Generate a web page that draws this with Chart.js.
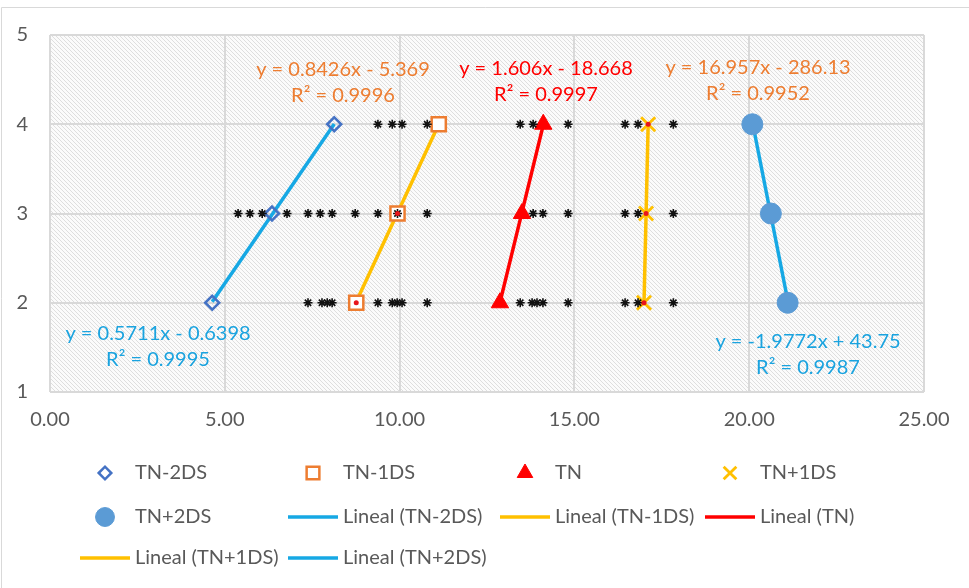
<!DOCTYPE html>
<html>
<head>
<meta charset="utf-8">
<script src="https://cdn.jsdelivr.net/npm/chart.js@4/dist/chart.umd.min.js"></script>
<style>
  html, body { margin: 0; padding: 0; background: #ffffff; }
  #c { display: block; }
</style>
</head>
<body>
<canvas id="c" width="969" height="588"></canvas>
<script>
// ---- data ----
const seriesNames = ['TN-2DS', 'TN-1DS', 'TN', 'TN+1DS', 'TN+2DS'];
const levels = [2, 3, 4];

const xTNminus2DS = [4.64, 6.35, 8.13];
const xTNminus1DS = [8.76, 9.94, 11.12];
const xTN         = [12.87, 13.50, 14.11];
const xTNplus1DS  = [16.99, 17.05, 17.11];
const xTNplus2DS  = [21.10, 20.62, 20.09];

// linear fits y = slope * x + intercept
const slopes     = [0.5711, 0.8426, 1.606, 16.957, -1.9772];
const intercepts = [-0.6398, -5.369, -18.668, -286.13, 43.75];
const rSquared   = [0.9995, 0.9996, 0.9997, 0.9952, 0.9987];

// individual readings at each level
const samplesAt2 = [7.38, 7.78, 7.93, 8.07, 9.38, 9.79, 9.93, 10.07, 10.79, 13.45, 13.79, 13.93, 14.10, 14.82, 16.45, 16.82, 17.83];
const samplesAt3 = [5.38, 5.72, 6.07, 6.78, 7.38, 7.73, 8.07, 8.73, 9.38, 9.94, 10.79, 13.82, 14.10, 14.82, 16.45, 16.82, 17.83];
const samplesAt4 = [9.38, 9.79, 10.07, 10.79, 13.45, 13.82, 14.82, 16.45, 16.82, 17.83];

// small red readings
const redMarksX = [8.76, 9.94, 16.99, 17.05, 17.11];
const redMarksY = [2, 3, 2, 3, 4];

const xTickValues = [0, 5, 10, 15, 20, 25];
const yTickValues = [1, 2, 3, 4, 5];

// ---- helpers ----
const seriesX = [xTNminus2DS, xTNminus1DS, xTN, xTNplus1DS, xTNplus2DS];
const toPoints = xs => xs.map((x, i) => ({ x: x, y: levels[i] }));
const fitLine = i => {
  const xs = seriesX[i];
  const lo = Math.min(...xs), hi = Math.max(...xs);
  return [lo, hi].map(x => ({ x: x, y: slopes[i] * x + intercepts[i] }));
};
const fmtEq = i => 'y = ' + slopes[i] + 'x ' + (intercepts[i] < 0 ? '- ' : '+ ') + Math.abs(intercepts[i]);
const samplePoints = [].concat(
  samplesAt2.map(x => ({ x: x, y: 2 })),
  samplesAt3.map(x => ({ x: x, y: 3 })),
  samplesAt4.map(x => ({ x: x, y: 4 }))
);

const FONT = 'Lato, "Open Sans", sans-serif';
const TEXT = '#595959';
const BLUE_LINE = '#16A8E4';
const GOLD = '#FFC000';
const RED = '#FF0000';
const ORANGE = '#ED7D31';

const markerStyles = [
  { pointStyle: 'rectRot', radius: 7, borderColor: '#4472C4', backgroundColor: 'rgba(255,255,255,0)', borderWidth: 2.5 },
  { pointStyle: 'rect', radius: 10, borderColor: ORANGE, backgroundColor: '#ffffff', borderWidth: 2.5 },
  { pointStyle: 'triangle', radius: 10, borderColor: RED, backgroundColor: RED, borderWidth: 1 },
  { pointStyle: 'crossRot', radius: 10, borderColor: GOLD, backgroundColor: GOLD, borderWidth: 2.8 },
  { pointStyle: 'circle', radius: 10.5, borderColor: '#5B9BD5', backgroundColor: '#5B9BD5', borderWidth: 1 }
];
const fitColors = [BLUE_LINE, GOLD, RED, GOLD, BLUE_LINE];

const datasets = [];
seriesNames.forEach((name, i) => {
  const m = markerStyles[i];
  datasets.push({
    label: name,
    data: toPoints(seriesX[i]),
    showLine: false,
    pointStyle: m.pointStyle,
    pointRadius: m.radius,
    pointBorderColor: m.borderColor,
    pointBackgroundColor: m.backgroundColor,
    pointBorderWidth: m.borderWidth,
    borderColor: m.borderColor,
    backgroundColor: m.backgroundColor,
    inLegend: true,
    order: 2
  });
});
seriesNames.forEach((name, i) => {
  datasets.push({
    label: 'Lineal (' + name + ')',
    data: fitLine(i),
    showLine: true,
    pointRadius: 0,
    borderColor: fitColors[i],
    backgroundColor: fitColors[i],
    borderWidth: 3.5,
    inLegend: true,
    order: 4
  });
});
datasets.push({
  label: 'readings',
  data: samplePoints,
  showLine: false,
  pointStyle: 'star',
  pointRadius: 4.5,
  pointBorderColor: '#111111',
  pointBorderWidth: 1.6,
  pointBackgroundColor: '#111111',
  inLegend: false,
  order: 1
});
datasets.push({
  label: 'red readings',
  data: redMarksX.map((x, i) => ({ x: x, y: redMarksY[i] })),
  showLine: false,
  pointStyle: 'circle',
  pointRadius: 2.5,
  pointBorderWidth: 0,
  pointBackgroundColor: '#E8141B',
  inLegend: false,
  order: 0
});

// ---- plugins ----
const hatchPlugin = {
  id: 'hatch',
  beforeDraw(chart) {
    const { ctx, chartArea: a } = chart;
    // light outer frame
    ctx.save();
    ctx.strokeStyle = '#d9d9d9';
    ctx.lineWidth = 1;
    ctx.beginPath();
    ctx.moveTo(1.5, chart.height + 2);
    ctx.lineTo(1.5, 7.5);
    ctx.lineTo(chart.width + 2, 7.5);
    ctx.stroke();
    // diagonal hatching of the plot area
    const tile = document.createElement('canvas');
    tile.width = 4; tile.height = 4;
    const t = tile.getContext('2d');
    t.fillStyle = '#fbfbfb';
    t.fillRect(0, 0, 4, 4);
    t.fillStyle = '#dedede';
    for (let i = 0; i < 4; i++) t.fillRect(i, i, 1, 1);
    ctx.fillStyle = ctx.createPattern(tile, 'repeat');
    ctx.fillRect(a.left, a.top, a.right - a.left, a.bottom - a.top);
    ctx.restore();
  }
};

const labelLayout = [
  { x: 158, y: 334, color: '#1AA3DF' },
  { x: 343, y: 70,  color: ORANGE },
  { x: 546, y: 69,  color: RED },
  { x: 758, y: 68,  color: ORANGE },
  { x: 808, y: 342, color: '#1AA3DF' }
];
const equationPlugin = {
  id: 'equations',
  afterDatasetsDraw(chart) {
    const ctx = chart.ctx;
    ctx.save();
    ctx.font = '20px ' + FONT;
    ctx.textAlign = 'center';
    ctx.textBaseline = 'middle';
    labelLayout.forEach((p, i) => {
      ctx.fillStyle = p.color;
      ctx.fillText(fmtEq(i), p.x, p.y);
      ctx.fillText('R\u00B2 = ' + rSquared[i], p.x, p.y + 26);
    });
    ctx.restore();
  }
};

const legendLayout = { cols: [80, 288, 500, 705], rows: [473, 517, 558], symbolWidth: 50, textOffset: 55 };
const legendPlugin = {
  id: 'gridLegend',
  afterDraw(chart) {
    const ctx = chart.ctx;
    const items = chart.data.datasets.filter(d => d.inLegend);
    ctx.save();
    ctx.font = '20px ' + FONT;
    ctx.textBaseline = 'middle';
    ctx.textAlign = 'left';
    items.forEach((d, k) => {
      const col = k % 4, row = Math.floor(k / 4);
      const x0 = legendLayout.cols[col], y = legendLayout.rows[row];
      if (d.showLine) {
        ctx.strokeStyle = d.borderColor;
        ctx.lineWidth = 3.5;
        ctx.beginPath();
        ctx.moveTo(x0, y);
        ctx.lineTo(x0 + legendLayout.symbolWidth, y);
        ctx.stroke();
      } else {
        ctx.strokeStyle = d.pointBorderColor;
        ctx.fillStyle = d.pointBackgroundColor;
        ctx.lineWidth = d.pointBorderWidth;
        Chart.helpers.drawPoint(ctx, {
          pointStyle: d.pointStyle,
          radius: d.pointRadius * 0.9,
          borderWidth: d.pointBorderWidth,
          rotation: 0
        }, x0 + legendLayout.symbolWidth / 2, y);
      }
      ctx.fillStyle = TEXT;
      ctx.fillText(d.label, x0 + legendLayout.textOffset, y);
    });
    ctx.restore();
  }
};

// ---- chart ----
new Chart(document.getElementById('c'), {
  type: 'scatter',
  data: { datasets: datasets },
  options: {
    responsive: false,
    devicePixelRatio: 1,
    animation: false,
    layout: { padding: { top: 35, right: 45, left: 0, bottom: 0 } },
    plugins: {
      legend: { display: false },
      tooltip: { enabled: false }
    },
    scales: {
      x: {
        type: 'linear',
        min: xTickValues[0],
        max: xTickValues[xTickValues.length - 1],
        afterBuildTicks(scale) { scale.ticks = xTickValues.map(v => ({ value: v })); },
        afterFit(scale) { scale.height = 196; },
        ticks: {
          padding: 16,
          color: TEXT,
          font: { family: FONT, size: 20 },
          callback: v => Number(v).toFixed(2)
        },
        grid: { color: '#d9d9d9', lineWidth: 2, drawTicks: false },
        border: { display: false }
      },
      y: {
        type: 'linear',
        min: yTickValues[0],
        max: yTickValues[yTickValues.length - 1],
        afterBuildTicks(scale) { scale.ticks = yTickValues.map(v => ({ value: v })); },
        afterFit(scale) { scale.width = 50; },
        ticks: {
          padding: 22,
          color: TEXT,
          font: { family: FONT, size: 20 }
        },
        grid: { color: '#d9d9d9', lineWidth: 2, drawTicks: false },
        border: { display: false }
      }
    }
  },
  plugins: [hatchPlugin, equationPlugin, legendPlugin]
});
</script>
</body>
</html>
